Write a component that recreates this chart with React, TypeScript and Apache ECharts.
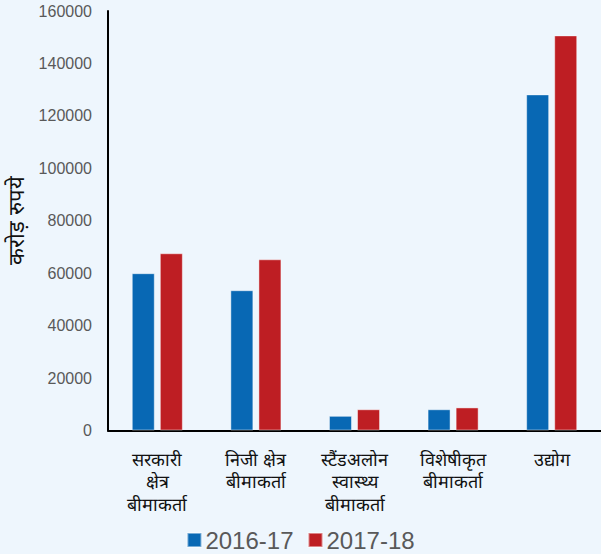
import React, { useEffect, useRef } from "react";
import * as echarts from "echarts";

const categories = [
  "सरकारी\nक्षेत्र\nबीमाकर्ता",
  "निजी क्षेत्र\nबीमाकर्ता",
  "स्टैंडअलोन\nस्वास्थ्य\nबीमाकर्ता",
  "विशेषीकृत\nबीमाकर्ता",
  "उद्योग",
];
const series2016 = [60000, 53500, 5600, 8100, 128200];
const series2017 = [67600, 65300, 8100, 8800, 150700];
const seriesNames = ["2016-17", "2017-18"];
const yTicks = { min: 0, max: 160000, interval: 20000 };
const yTitle = "करोड़ रुपये";

export default function App() {
  const ref = useRef<HTMLDivElement>(null);
  useEffect(() => {
    document.body.style.margin = "0";
    const chart = echarts.init(ref.current!, null, { renderer: "svg" });
    chart.setOption({
      animation: false,
      backgroundColor: "#eef6fd",
      grid: { left: 108, right: 0, top: 11, bottom: 123.5, containLabel: false, outerBoundsMode: "none" },
      legend: {
        data: seriesNames,
        left: "center",
        top: 523,
        itemWidth: 14,
        itemHeight: 14,
        itemGap: 14,
        icon: "rect",
        textStyle: { fontSize: 24, color: "#595959", fontFamily: "Liberation Sans, Arial, sans-serif", padding: [0, 0, 0, -1] },
      },
      xAxis: {
        type: "category",
        data: categories,
        axisLine: { show: true, lineStyle: { color: "#000", width: 2 } },
        axisTick: { show: false },
        axisLabel: {
          interval: 0,
          margin: 18,
          fontSize: 18,
          lineHeight: 22.5,
          color: "#111",
        },
      },
      yAxis: {
        type: "value",
        min: yTicks.min,
        max: yTicks.max,
        interval: yTicks.interval,
        name: yTitle,
        nameLocation: "middle",
        nameGap: 80,
        nameTextStyle: { fontSize: 22, color: "#111" },
        axisLine: { show: true, lineStyle: { color: "#000", width: 2 } },
        axisTick: { show: false },
        splitLine: { show: false },
        axisLabel: {
          margin: 16,
          fontSize: 16,
          color: "#595959",
          fontFamily: "Liberation Sans, Arial, sans-serif",
          formatter: (v: number) => String(v),
        },
      },
      series: [
        {
          name: seriesNames[0],
          type: "bar",
          data: series2016,
          barWidth: 23,
          barGap: "22%",
          itemStyle: { color: "#0868b4", borderColor: "rgba(255,255,255,0.45)", borderWidth: 1 },
        },
        {
          name: seriesNames[1],
          type: "bar",
          data: series2017,
          barWidth: 23,
          barGap: "22%",
          itemStyle: { color: "#be1e23", borderColor: "rgba(255,255,255,0.45)", borderWidth: 1 },
        },
      ],
    });
    return () => chart.dispose();
  }, []);
  return <div ref={ref} style={{ width: 601, height: 554 }} />;
}
